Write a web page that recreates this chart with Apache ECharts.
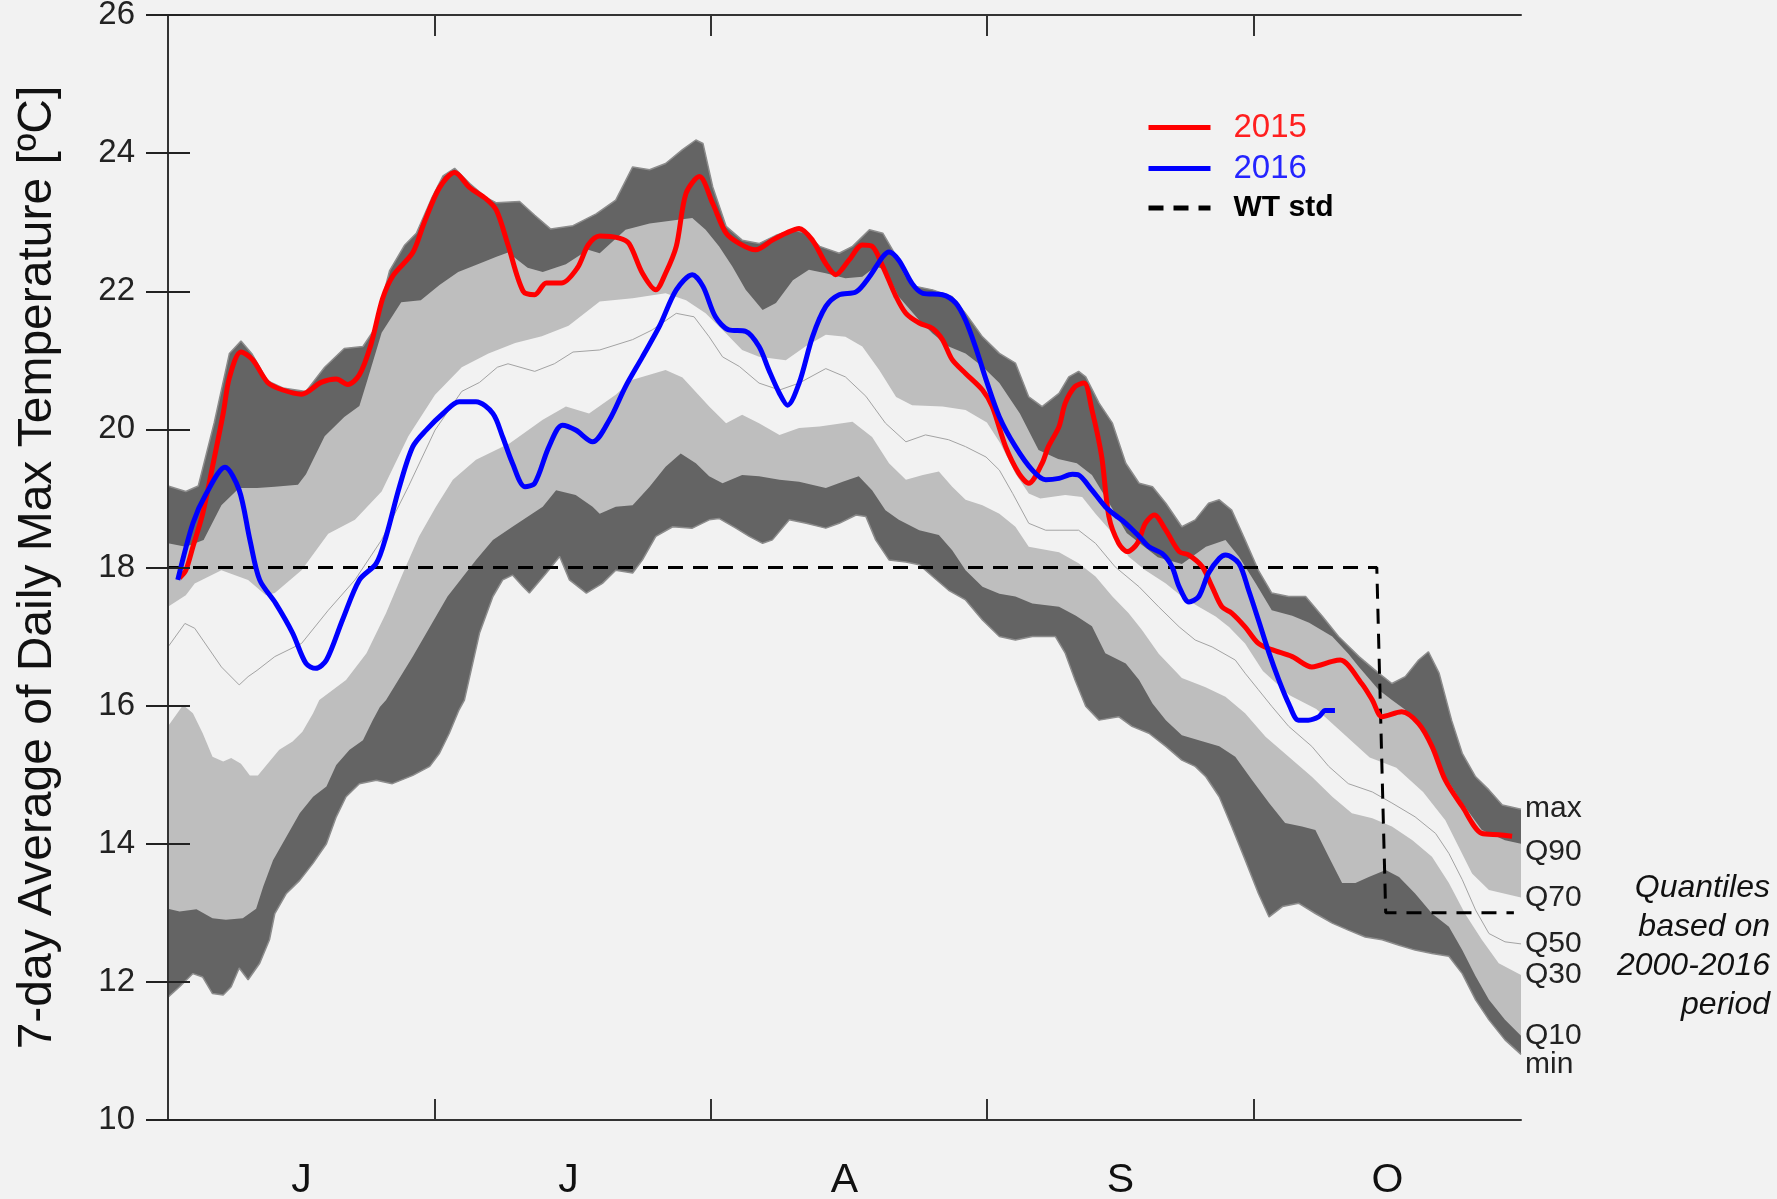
<!DOCTYPE html>
<html lang="en">
  <head>
    <meta charset="UTF-8" />
    <title>7-day Average of Daily Max Temperature</title>
    <script src="https://cdn.jsdelivr.net/npm/echarts@6/dist/echarts.min.js"></script>
    <style>
      html, body { margin: 0; padding: 0; background: #f2f2f2; }
      #app { width: 1777px; height: 1199px; }
    </style>
  </head>
  <body>
    <div id="app"></div>
    <script>
      // x is the day index, 0 = 1 June
      const monthStarts = [30, 61, 92, 122];
      const monthMid = [15, 45, 76, 107, 137];
      const monthLetters = ["J", "J", "A", "S", "O"];

      // quantile envelopes 2000-2016, [day, degC]
      const qMax = [[0,19.18],[2,19.1],[3.4,19.18],[5.2,20.1],[6.9,21.1],[8.2,21.28],[9.4,21.1],[11.2,20.7],[12.9,20.6],[15.5,20.55],[17.6,20.9],[19.8,21.17],[21.9,21.2],[23.2,21.45],[24.9,22.3],[26.6,22.67],[27.9,22.84],[29.6,23.34],[30.9,23.67],[32.2,23.78],[33.9,23.56],[35.7,23.36],[36.9,23.28],[39.5,23.3],[41.2,23.1],[43,22.9],[45.5,22.95],[48.1,23.12],[50.3,23.32],[52.2,23.8],[54.1,23.76],[55.9,23.85],[57.8,24.05],[59.3,24.19],[60.1,24.14],[61.2,23.51],[62.7,22.94],[64.5,22.74],[66.4,22.69],[68.3,22.81],[70.2,22.89],[71.7,22.84],[73.2,22.65],[75.4,22.55],[76.9,22.65],[78.8,22.89],[80.3,22.84],[81.4,22.6],[82.9,22.21],[84,22.07],[85.9,22.02],[88.1,21.92],[89.6,21.68],[91.5,21.34],[93.4,21.1],[95.2,20.96],[96.7,20.47],[98.2,20.33],[100.1,20.52],[101.2,20.76],[102.3,20.84],[103.1,20.76],[104.6,20.38],[106.1,20.09],[107.6,19.51],[109.1,19.22],[110.6,19.17],[112.1,18.93],[113.9,18.59],[115.4,18.69],[116.9,18.93],[118.1,18.98],[119.5,18.83],[121,18.4],[122.5,17.96],[124,17.63],[125.9,17.58],[127.8,17.58],[129.7,17.29],[131.5,17.0],[133.8,16.71],[136,16.47],[137.5,16.32],[139,16.42],[140.5,16.66],[141.6,16.78],[142.8,16.47],[144.2,15.79],[145.4,15.31],[146.9,14.97],[148.4,14.78],[149.9,14.56],[152,14.5]];
      const q90 = [[0,18.35],[2,18.3],[4,18.4],[6,18.9],[8,19.15],[10,19.15],[12,19.17],[14.6,19.2],[15.5,19.35],[17.6,19.9],[19.8,20.18],[21.5,20.34],[22.3,20.67],[24,21.4],[26.2,21.84],[28.4,21.87],[30.5,22.09],[32.6,22.28],[34.8,22.39],[36.9,22.5],[38.2,22.56],[40.4,22.34],[42.1,22.28],[44.7,22.39],[47.2,22.6],[48.5,22.55],[51.4,22.89],[54.1,22.98],[57.1,23.03],[58.9,23.06],[60.4,22.89],[61.9,22.65],[63.4,22.36],[64.9,22.02],[66.8,21.73],[68.3,21.83],[70.2,22.16],[72,22.31],[73.9,22.26],[76.1,22.19],[78,22.21],[79.5,22.36],[80.6,22.31],[82.1,21.92],[84.4,21.58],[85.9,21.39],[87.7,21.2],[89.6,21.1],[91.5,20.91],[93.4,20.67],[95.7,20.23],[97.8,19.7],[100,19.57],[102.1,19.51],[103.8,19.34],[105.6,18.96],[107.7,18.5],[109.5,18.32],[111.2,18.15],[113.9,18.05],[116.6,18.3],[118.8,18.4],[120.3,18.16],[122.2,17.77],[124,17.38],[126.3,17.3],[128.2,17.2],[130.8,17.0],[132.6,16.75],[133.8,16.56],[136,16.23],[137.5,16.08],[139,15.94],[140.5,15.74],[142,15.41],[143.5,14.97],[145.4,14.59],[147.6,14.2],[150.2,14.05],[152,14.0]];
      const q70 = [[0,17.43],[2,17.6],[3,17.77],[6,17.96],[9,17.82],[11,17.6],[12,17.63],[15,17.96],[18,18.49],[21,18.69],[24,19.1],[27,19.9],[30,20.5],[33,20.9],[36,21.1],[39,21.25],[42,21.35],[45,21.5],[48.5,21.85],[52.2,21.9],[55.9,21.97],[58.2,21.87],[60.4,21.68],[62.7,21.39],[64.5,21.15],[66.4,21.05],[69.4,21.0],[71.6,21.2],[73.9,21.37],[76.1,21.34],[78,21.2],[79.9,20.86],[81.8,20.47],[83.6,20.35],[87,20.33],[89.6,20.28],[92,20.1],[93.5,19.8],[95.2,19.36],[96.7,19.07],[98,19.0],[100.8,19.05],[102.7,19.02],[104.2,18.78],[106.1,18.5],[107.9,18.16],[109.8,17.96],[112.1,17.77],[113.9,17.58],[115.8,17.43],[117.7,17.29],[119.2,17.14],[121,16.9],[123,16.5],[126,16.15],[129,15.95],[132,15.6],[135,15.25],[138,15.1],[141,14.75],[143.5,14.34],[146.5,13.57],[148.4,13.33],[152,13.22]];
      const q50 = [[0,16.85],[1.9,17.19],[3,17.12],[6,16.56],[8,16.3],[9,16.42],[10,16.51],[12,16.71],[15,16.9],[18,17.38],[21,17.82],[24,18.4],[27,19.17],[30,19.99],[33,20.55],[35,20.68],[37,20.9],[38.2,20.95],[41.2,20.84],[43.4,20.95],[45.5,21.12],[48.5,21.15],[52.2,21.3],[54.4,21.44],[57.1,21.68],[59.1,21.63],[60.8,21.34],[62.3,21.05],[64.2,20.91],[66.4,20.67],[68.7,20.57],[70.9,20.67],[73.9,20.88],[76.1,20.76],[78.4,20.48],[80.6,20.09],[82.9,19.82],[85.1,19.92],[87.7,19.85],[89.6,19.75],[91.9,19.6],[93.4,19.41],[94.9,19.07],[96.7,18.64],[98.6,18.54],[100.1,18.54],[102.3,18.54],[104.2,18.35],[106.4,18.01],[109.1,17.72],[111.3,17.43],[113.6,17.14],[115.4,16.95],[117.3,16.85],[119.9,16.66],[121,16.47],[122.5,16.23],[124,15.99],[125.9,15.7],[128.5,15.41],[130.4,15.12],[132.6,14.87],[135.3,14.75],[137.5,14.59],[140.1,14.39],[142.4,14.15],[143.9,13.86],[145.4,13.48],[146.9,13.04],[148.4,12.7],[150.2,12.58],[152,12.55]];
      const q30 = [[0,15.7],[1.7,16.01],[2.8,15.89],[3.9,15.6],[5,15.26],[6.2,15.19],[7.1,15.24],[8.2,15.16],[9.2,14.99],[10.1,14.99],[11.4,15.19],[12.5,15.36],[14,15.48],[15.1,15.62],[16.3,15.89],[17,16.08],[20,16.37],[22.3,16.76],[24.5,17.34],[26.4,17.92],[28.2,18.45],[30.1,18.88],[32,19.27],[34.6,19.56],[38.4,19.8],[42.1,20.14],[44.7,20.33],[47.3,20.23],[50.3,20.5],[52.2,20.72],[55.9,20.86],[57.8,20.75],[60.8,20.33],[62.7,20.09],[64.5,20.21],[66.4,20.09],[68.7,19.92],[70.9,20.02],[73.2,20.04],[76.9,20.11],[79.1,19.89],[81,19.51],[82.9,19.27],[84.8,19.34],[86.6,19.39],[88.1,19.17],[89.6,18.98],[91.5,18.9],[93.4,18.78],[95.2,18.59],[96.7,18.3],[100.1,18.22],[102.3,18.06],[104.2,17.87],[106.1,17.58],[107.9,17.34],[109.4,17.1],[111.3,16.75],[113.9,16.4],[116.5,16.27],[118.8,16.13],[121,15.89],[123.3,15.55],[125.9,15.26],[128.5,14.97],[130.8,14.68],[133,14.44],[135.3,14.37],[137.5,14.25],[139.8,14.05],[142,13.81],[143.9,13.43],[145.7,12.99],[147.6,12.61],[149.5,12.27],[152,12.1]];
      const q10 = [[0,13.06],[1.3,13.02],[3.2,13.05],[5,12.92],[6.5,12.9],[8.4,12.92],[9.9,13.06],[10.7,13.38],[11.8,13.76],[13.3,14.1],[14.8,14.44],[16.3,14.68],[17.8,14.83],[18.9,15.14],[20.4,15.36],[21.9,15.5],[23,15.79],[23.8,15.98],[24.5,16.08],[27.5,16.71],[31.4,17.58],[34.6,18.11],[36.5,18.4],[38.7,18.59],[42.1,18.88],[43.6,19.12],[45.8,19.05],[47.7,18.88],[48.5,18.78],[50.3,18.88],[52.2,18.9],[54.1,19.17],[55.9,19.46],[57.6,19.65],[59.3,19.51],[60.8,19.32],[62.3,19.22],[64.5,19.34],[66.4,19.32],[68.7,19.27],[70.9,19.24],[73.9,19.15],[75.8,19.24],[77.6,19.32],[79.1,19.12],[80.6,18.83],[82.1,18.69],[84.4,18.54],[86.6,18.47],[88.1,18.25],[89.6,17.96],[91.5,17.72],[93.4,17.62],[95.2,17.58],[97.1,17.48],[100.1,17.43],[102,17.3],[103.8,17.15],[105.3,16.76],[107.6,16.61],[109.1,16.37],[110.6,16.03],[112.1,15.79],[113.9,15.57],[115.8,15.5],[118.1,15.41],[119.9,15.26],[121.8,14.92],[123.7,14.59],[125.5,14.3],[127.4,14.25],[128.9,14.2],[130.4,13.81],[131.9,13.43],[133.4,13.43],[134.9,13.52],[136.8,13.62],[138.3,13.52],[140.1,13.28],[142,12.99],[143.9,12.8],[145.4,12.46],[146.9,12.08],[148.4,11.74],[150.2,11.45],[152,11.22]];
      const qMin = [[0,11.78],[1.3,11.93],[2.8,12.12],[3.9,12.07],[5,11.83],[6.2,11.81],[7.1,11.93],[8,12.2],[9,12.03],[10.3,12.27],[11.4,12.61],[12,12.99],[13.3,13.28],[14.8,13.47],[16.3,13.72],[17.8,14.0],[18.9,14.39],[20,14.68],[21.5,14.87],[23.4,14.92],[25.2,14.87],[27.5,14.99],[29.4,15.12],[30.5,15.31],[31.6,15.6],[32.7,15.94],[33.3,16.08],[35,17.05],[36.5,17.58],[37.6,17.82],[38.7,17.89],[39.9,17.72],[40.6,17.63],[42.5,17.92],[44,18.16],[45.1,17.82],[47,17.63],[48.8,17.77],[50.3,17.96],[52.2,17.92],[53.3,18.11],[54.8,18.45],[56.7,18.59],[58.9,18.57],[60.8,18.69],[61.9,18.71],[63.8,18.57],[65.3,18.45],[66.8,18.35],[67.9,18.4],[69.8,18.69],[71.7,18.64],[73.9,18.57],[75.4,18.64],[77.3,18.76],[78.4,18.74],[79.5,18.4],[81,18.11],[82.9,18.08],[84.4,18.04],[85.9,17.87],[87.7,17.67],[89.6,17.53],[91.5,17.24],[93.4,17.0],[95.2,16.95],[97.1,17.0],[99.7,17.0],[100.8,16.76],[101.9,16.37],[103.1,15.99],[104.6,15.79],[106.8,15.84],[108.3,15.7],[110.2,15.6],[112.1,15.41],[113.9,15.21],[115.4,15.12],[116.6,14.97],[118.1,14.68],[119.5,14.25],[121,13.77],[122.5,13.28],[123.7,12.94],[125.2,13.09],[127,13.14],[128.9,12.99],[130.8,12.85],[132.6,12.75],[134.5,12.65],[136.4,12.61],[138.3,12.53],[140.1,12.46],[142,12.41],[143.9,12.37],[145.4,12.12],[146.9,11.74],[148.4,11.45],[150.2,11.16],[152,10.95]];

      const y2015 = [[1.3,17.85],[2,17.96],[2.8,18.3],[3.9,18.78],[5,19.46],[6.2,20.23],[6.9,20.75],[8.2,21.12],[9.5,21.01],[11.2,20.68],[12.9,20.57],[15,20.51],[17.2,20.68],[18.9,20.73],[20.2,20.65],[21.5,20.79],[22.8,21.23],[24.1,21.89],[25.3,22.23],[27.5,22.56],[28.8,23.0],[30.5,23.5],[32.2,23.72],[33.9,23.5],[35.7,23.34],[36.9,23.17],[38.2,22.67],[39.9,22.0],[41.2,21.95],[42.5,22.12],[44.2,22.12],[46,22.34],[47.2,22.67],[48.5,22.8],[50.7,22.77],[51.8,22.69],[53.3,22.26],[54.8,22.02],[55.9,22.26],[57.1,22.65],[58.2,23.42],[59.7,23.66],[61.2,23.27],[62.7,22.84],[64.2,22.69],[66,22.6],[67.9,22.74],[69.4,22.84],[70.9,22.91],[72.4,22.74],[73.9,22.4],[75,22.24],[76.5,22.45],[78,22.67],[79.1,22.65],[80.3,22.36],[81.8,21.92],[82.9,21.68],[84.4,21.54],[85.9,21.46],[87,21.3],[88.1,21.01],[89.6,20.81],[91.5,20.57],[92.6,20.33],[94.1,19.75],[95.6,19.36],[96.7,19.22],[98.2,19.51],[98.9,19.75],[100.1,20.04],[100.8,20.38],[101.9,20.62],[102.9,20.67],[103.8,20.28],[104.9,19.6],[105.7,18.74],[106.8,18.35],[107.8,18.23],[108.9,18.35],[109.8,18.64],[110.8,18.76],[112.1,18.54],[113.6,18.23],[114.7,18.18],[116.2,18.01],[117.3,17.72],[118.4,17.43],[119.5,17.34],[121,17.14],[122.5,16.9],[124,16.81],[126.3,16.71],[128.5,16.56],[130.8,16.64],[131.7,16.66],[134.1,16.32],[135.3,16.08],[136.4,15.84],[138.6,15.91],[140.5,15.74],[142,15.41],[143.5,14.92],[145.4,14.54],[147.6,14.15],[149.5,14.13],[151,14.11]];
      const y2016 = [[1.1,17.82],[2.8,18.64],[4.3,19.07],[6.4,19.45],[8,19.12],[9.2,18.4],[10.3,17.82],[12.1,17.48],[14,17.05],[15.5,16.61],[16.6,16.54],[17.8,16.66],[19.6,17.24],[21.5,17.82],[23.4,18.06],[24.5,18.45],[26,19.17],[27.5,19.75],[29,19.99],[30.9,20.23],[32.7,20.4],[34.6,20.4],[36.5,20.23],[37.6,19.89],[38.7,19.51],[40.1,19.17],[41.2,19.22],[42.8,19.75],[44.3,20.06],[45.8,19.99],[47.7,19.82],[49.6,20.14],[51.4,20.62],[53.3,21.05],[55.2,21.49],[57.1,22.02],[58.9,22.24],[60.1,22.07],[61.5,21.63],[63,21.44],[64.9,21.42],[66.4,21.2],[67.5,20.86],[68.7,20.52],[69.6,20.35],[70.9,20.67],[72.4,21.34],[73.9,21.78],[75.4,21.95],[77.3,21.99],[78.8,22.21],[80.3,22.5],[81,22.57],[82.1,22.45],[83.6,22.11],[84.8,21.97],[87,21.95],[88.5,21.83],[89.6,21.58],[90.7,21.2],[91.9,20.72],[93.4,20.18],[95.2,19.75],[97.1,19.41],[98.6,19.27],[100.1,19.29],[101.6,19.35],[102.3,19.34],[103.8,19.12],[105.3,18.88],[106.4,18.76],[107.6,18.64],[109.1,18.45],[110.2,18.3],[111.7,18.2],[112.8,18.01],[113.6,17.72],[114.7,17.5],[115.8,17.58],[116.9,17.92],[118.1,18.13],[118.8,18.18],[120.3,18.06],[121.4,17.67],[122.5,17.24],[123.7,16.76],[124.8,16.37],[125.9,16.03],[127,15.79],[128.1,15.79],[129.3,15.84],[130,15.93],[131.1,15.93]];
      const wtStd = [[0,18],[135.8,18],[136.8,13],[151.2,13]];

      const BG = "#f2f2f2";
      const DARK = "#646464";
      const LIGHT = "#bebebe";
      const FONT = "Liberation Sans, Arial, sans-serif";

      const chart = echarts.init(document.getElementById("app"));

      // each quantile is filled from its line down to the axis, later ones paint over earlier ones
      function band(name, data, fill, edge, labelOffset) {
        return {
          name: name,
          type: "line",
          data: data,
          symbol: "none",
          silent: true,
          lineStyle: edge ? { color: edge, width: 1.5 } : { width: 0 },
          areaStyle: { color: fill, opacity: 1, origin: "start" },
          endLabel: {
            show: true,
            formatter: name,
            color: "#222",
            fontSize: 30,
            fontFamily: FONT,
            distance: 4,
            offset: labelOffset || [0, 0],
          },
          z: 2,
        };
      }

      const axisLine = { show: true, lineStyle: { color: "#333", width: 2 } };

      chart.setOption({
        backgroundColor: BG,
        animation: false,
        textStyle: { fontFamily: FONT },
        grid: { left: 168, right: 256, top: 15, bottom: 79, outerBoundsMode: "none", containLabel: false },
        graphic: [
          {
            type: "text",
            x: 1770,
            y: 869,
            silent: true,
            style: {
              text: "Quantiles\nbased on\n2000-2016\nperiod",
              textAlign: "right",
              textVerticalAlign: "top",
              fontSize: 32,
              fontStyle: "italic",
              fontFamily: FONT,
              lineHeight: 39,
              fill: "#111",
            },
          },
        ],
        legend: {
          orient: "vertical",
          left: 1141,
          top: 106,
          itemWidth: 62,
          itemHeight: 20,
          itemGap: 8,
          selectedMode: false,
          itemStyle: { opacity: 0 },
          lineStyle: { width: 5 },
          textStyle: { fontSize: 33, lineHeight: 30, padding: [0, 0, 0, 18], fontFamily: FONT },
          data: [
            { name: "2015", textStyle: { color: "#ff1f1f" } },
            { name: "2016", textStyle: { color: "#2424ff" } },
            { name: "WT std", textStyle: { color: "#000", fontWeight: "bold", fontSize: 30 } },
          ],
        },
        xAxis: [
          {
            type: "value",
            min: 0,
            max: 152,
            position: "bottom",
            z: 10,
            axisLine: axisLine,
            splitLine: { show: false },
            axisTick: { inside: true, length: 21, customValues: monthStarts, lineStyle: { color: "#333", width: 2 } },
            axisLabel: {
              customValues: monthMid,
              formatter: function (v) { return monthLetters[monthMid.indexOf(v)]; },
              fontSize: 41,
              color: "#111",
              margin: 40,
            },
          },
          {
            type: "value",
            min: 0,
            max: 152,
            position: "top",
            z: 10,
            axisLine: axisLine,
            splitLine: { show: false },
            axisTick: { inside: true, length: 21, customValues: monthStarts, lineStyle: { color: "#333", width: 2 } },
            axisLabel: { show: false },
          },
        ],
        yAxis: [
          {
            type: "value",
            min: 10,
            max: 26,
            interval: 2,
            position: "left",
            z: 10,
            axisLine: axisLine,
            splitLine: { show: false },
            axisTick: { inside: true, length: 22, lineStyle: { color: "#222", width: 2 } },
            axisLabel: { fontSize: 33, color: "#222", margin: 33 },
            name: "7-day Average of Daily Max Temperature [ºC]",
            nameLocation: "middle",
            nameGap: 106,
            nameTextStyle: { fontSize: 48, color: "#111", fontFamily: FONT },
          },
          {
            type: "value",
            min: 10,
            max: 26,
            interval: 2,
            position: "right",
            z: 10,
            axisLine: axisLine,
            splitLine: { show: false },
            axisTick: { inside: true, length: 22, lineStyle: { color: "#222", width: 2 } },
            axisLabel: { show: false },
          },
        ],
        series: [
          band("max", qMax, DARK, "#8c8c8c"),
          band("Q90", q90, LIGHT, null, [0, 8]),
          band("Q70", q70, BG, null),
          band("Q30", q30, LIGHT, null),
          band("Q10", q10, DARK, null),
          band("min", qMin, BG, "#8c8c8c", [0, 10]),
          {
            name: "Q50",
            type: "line",
            data: q50,
            symbol: "none",
            silent: true,
            lineStyle: { color: "#a3a3a3", width: 1 },
            endLabel: { show: true, formatter: "Q50", color: "#222", fontSize: 30, fontFamily: FONT, distance: 4 },
            z: 3,
          },
          {
            name: "WT std",
            type: "line",
            data: wtStd,
            symbol: "none",
            silent: true,
            lineStyle: { color: "#000", width: 3, type: [15, 10] },
            itemStyle: { color: "#000" },
            z: 4,
          },
          {
            name: "2015",
            type: "line",
            data: y2015,
            symbol: "none",
            smooth: 0.3,
            silent: true,
            lineStyle: { color: "#ff0000", width: 5 },
            itemStyle: { color: "#ff0000" },
            z: 5,
          },
          {
            name: "2016",
            type: "line",
            data: y2016,
            symbol: "none",
            smooth: 0.3,
            silent: true,
            lineStyle: { color: "#0000ff", width: 5 },
            itemStyle: { color: "#0000ff" },
            z: 6,
          },
        ],
      });
    </script>
  </body>
</html>
